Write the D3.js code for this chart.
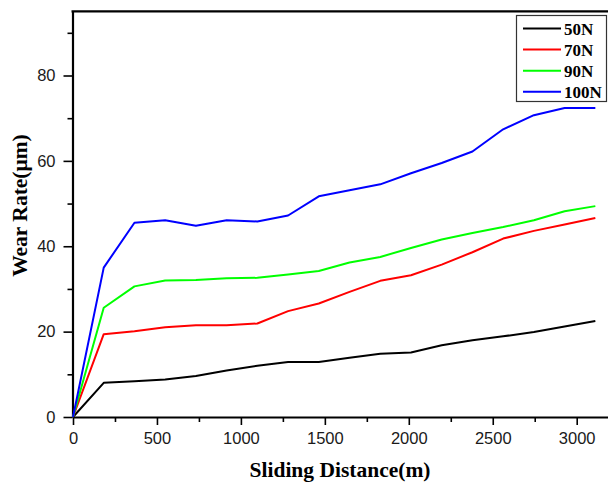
<!DOCTYPE html>
<html>
<head>
<meta charset="utf-8">
<script src="https://cdn.jsdelivr.net/npm/d3@7"></script>
<style>
  body { margin: 0; background: #fff; }
  svg { display: block; }
</style>
</head>
<body>
<svg id="chart" width="608" height="486"></svg>
<script>
// sliding distance (m)
const distance = [0, 183, 366, 549, 732, 915, 1098, 1281, 1464, 1647, 1830, 2013, 2196, 2379, 2562, 2745, 2928, 3111];

const load50 = [0, 8.0, 8.4, 8.8, 9.6, 10.9, 12.0, 12.9, 12.9, 13.9, 14.8, 15.1, 16.8, 18.0, 18.9, 19.9, 21.2, 22.5];
const load70 = [0, 19.4, 20.1, 21.0, 21.5, 21.5, 21.9, 24.8, 26.6, 29.3, 31.9, 33.2, 35.7, 38.6, 41.8, 43.6, 45.1, 46.6];
const load90 = [0, 25.6, 30.6, 32.0, 32.1, 32.5, 32.6, 33.4, 34.2, 36.2, 37.5, 39.6, 41.6, 43.1, 44.5, 46.1, 48.2, 49.4];
const load100 = [0, 35.0, 45.5, 46.1, 44.8, 46.1, 45.8, 47.2, 51.7, 53.1, 54.5, 57.1, 59.5, 62.2, 67.4, 70.7, 72.4, 72.4];

const seriesNames = ['50N', '70N', '90N', '100N'];
const seriesValues = [load50, load70, load90, load100];
const seriesColors = ['#000000', '#ff0000', '#00ff00', '#0000ff'];

const xTicks = [0, 500, 1000, 1500, 2000, 2500, 3000];
const yTicks = [0, 20, 40, 60, 80];

const svg = d3.select('#chart');

const plotLeft = 72.5, plotBottom = 417;
const xPer = 503.7 / 3000, yPer = (417 - 75.5) / 80;
const x = d3.scaleLinear().domain([0, 3200]).range([73, 73 + 3200 * xPer]);
const y = d3.scaleLinear().domain([0, 95]).range([plotBottom, plotBottom - 95 * yPer]);

const tickFont = 'Arial, "Liberation Sans", sans-serif';
const titleFont = '"Liberation Serif", "Times New Roman", serif';

// minor ticks
const xMinor = d3.range(250, 3200, 500);
const yMinor = d3.range(10, 95, 20);

svg.append('g')
    .attr('transform', `translate(0,${plotBottom})`)
    .call(d3.axisBottom(x).tickValues(xMinor).tickSize(5).tickFormat(''))
    .call(g => g.select('.domain').remove())
    .selectAll('line').attr('stroke-width', 1.6);

svg.append('g')
    .attr('transform', `translate(${plotLeft},0)`)
    .call(d3.axisLeft(y).tickValues(yMinor).tickSize(5).tickFormat(''))
    .call(g => g.select('.domain').remove())
    .selectAll('line').attr('stroke-width', 1.6);

const xAxis = svg.append('g')
    .attr('transform', `translate(0,${plotBottom})`)
    .call(d3.axisBottom(x).tickValues(xTicks).tickSize(8).tickPadding(7)
        .tickSizeOuter(0).tickFormat(d3.format('d')));
xAxis.select('.domain').attr('stroke-width', 2.2);
xAxis.selectAll('line').attr('stroke-width', 1.6);
xAxis.selectAll('text')
    .attr('font-family', tickFont)
    .attr('font-size', 16.5)
    .attr('fill', '#1a1a1a');

const yAxis = svg.append('g')
    .attr('transform', `translate(${plotLeft},0)`)
    .call(d3.axisLeft(y).tickValues(yTicks).tickSize(9).tickPadding(8)
        .tickSizeOuter(0).tickFormat(d3.format('d')));
yAxis.select('.domain').attr('stroke-width', 2.2);
yAxis.selectAll('line').attr('stroke-width', 1.6);
yAxis.selectAll('text')
    .attr('font-family', tickFont)
    .attr('font-size', 16.5)
    .attr('fill', '#1a1a1a');

// top frame line
svg.append('line')
    .attr('x1', plotLeft - 1).attr('x2', 608)
    .attr('y1', y(95)).attr('y2', y(95))
    .attr('stroke', '#000').attr('stroke-width', 2.2);

// lines
const line = d3.line()
    .x((d, i) => x(distance[i]))
    .y(d => y(d));

seriesValues.forEach((vals, k) => {
    svg.append('path')
        .datum(vals)
        .attr('fill', 'none')
        .attr('stroke', seriesColors[k])
        .attr('stroke-width', 2)
        .attr('stroke-linejoin', 'round')
        .attr('d', line);
});

// axis titles
svg.append('text')
    .attr('x', 340).attr('y', 477)
    .attr('text-anchor', 'middle')
    .attr('font-family', titleFont)
    .attr('font-weight', 'bold')
    .attr('font-size', 21.5)
    .text('Sliding Distance(m)');

svg.append('text')
    .attr('transform', 'translate(27,205.5) rotate(-90)')
    .attr('text-anchor', 'middle')
    .attr('font-family', titleFont)
    .attr('font-weight', 'bold')
    .attr('font-size', 21.5)
    .text('Wear Rate(μm)');

// legend
const legend = svg.append('g');
legend.append('rect')
    .attr('x', 516.5).attr('y', 15.5)
    .attr('width', 90).attr('height', 86)
    .attr('fill', '#fff')
    .attr('stroke', '#333').attr('stroke-width', 1.2);

seriesNames.forEach((name, k) => {
    const ly = 28.5 + k * 21.1;
    legend.append('line')
        .attr('x1', 523).attr('x2', 561)
        .attr('y1', ly).attr('y2', ly)
        .attr('stroke', seriesColors[k]).attr('stroke-width', 2);
    legend.append('text')
        .attr('x', 564).attr('y', ly + 6.5)
        .attr('font-family', titleFont)
        .attr('font-weight', 'bold')
        .attr('font-size', 17)
        .text(name);
});
</script>
</body>
</html>
